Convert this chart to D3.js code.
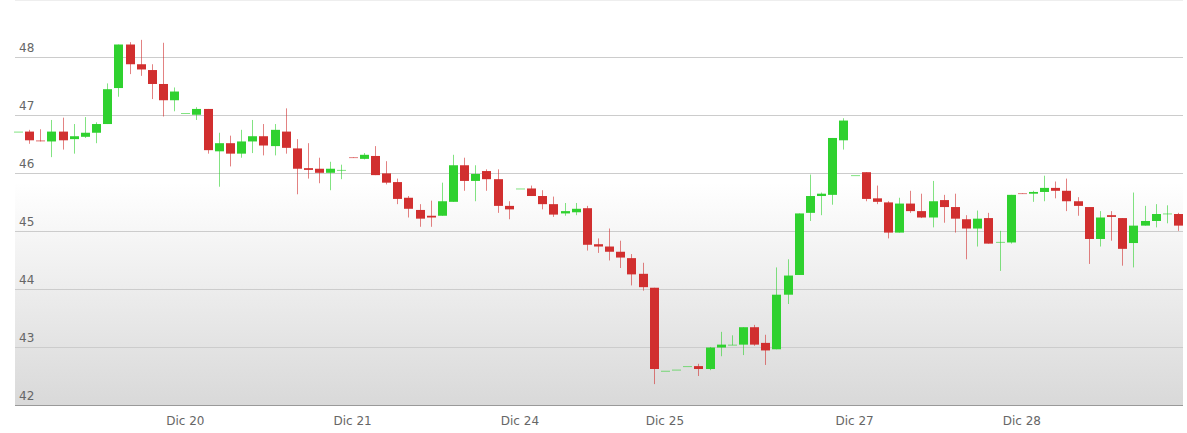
<!DOCTYPE html>
<html>
<head>
<meta charset="utf-8">
<script src="https://cdn.jsdelivr.net/npm/d3@7"></script>
<style>
  body { margin: 0; background: #fff; }
  text { font-family: "DejaVu Sans", sans-serif; }
</style>
</head>
<body>
<div id="chart"></div>
<script>
var svgWidth = 1187;
var svgHeight = 433;

var plot = { left: 15, right: 1183, top: 0, bottom: 405 };

// OHLC values, one per candle
var opens = [46.71,46.71,46.56,46.54,46.71,46.58,46.62,46.69,46.84,47.46,48.21,47.87,47.77,47.53,47.25,47.03,47.00,47.10,46.37,46.51,
  46.33,46.54,46.63,46.46,46.71,46.42,46.08,46.07,46.00,46.04,46.27,46.24,46.29,45.99,45.84,45.57,45.36,45.26,45.26,45.50,
  46.13,45.86,46.03,45.89,45.43,45.73,45.73,45.60,45.46,45.30,45.32,45.39,44.77,44.73,44.64,44.53,44.26,44.02,42.59,42.61,
  42.67,42.67,42.62,42.99,43.03,43.04,43.34,43.07,42.96,43.90,44.24,45.31,45.60,45.62,46.56,45.96,46.01,45.56,45.49,44.97,
  45.47,45.34,45.23,45.53,45.41,45.20,45.04,45.22,44.81,44.80,45.65,45.64,45.67,45.74,45.69,45.51,45.41,44.86,45.27,45.22,
  44.79,45.09,45.17,45.29,45.29];
var highs = [46.71,46.74,46.75,46.91,46.95,46.84,46.96,46.87,47.54,48.21,48.25,48.29,47.87,48.24,47.47,47.03,47.13,47.10,46.69,46.64,
  46.74,46.91,46.84,46.84,47.11,46.58,46.51,46.26,46.19,46.14,46.27,46.34,46.46,46.20,45.90,45.60,45.46,45.52,45.83,46.31,
  46.26,46.13,46.06,46.06,45.51,45.73,45.78,45.70,45.59,45.48,45.48,45.43,44.87,45.04,44.83,44.60,44.45,44.02,42.59,42.61,
  42.67,42.71,43.00,43.26,43.20,43.34,43.38,43.21,44.37,44.51,45.30,45.97,45.66,46.60,46.94,45.96,46.01,45.78,45.51,45.57,
  45.69,45.64,45.86,45.62,45.64,45.27,45.35,45.31,45.00,45.62,45.65,45.69,45.95,45.85,45.90,45.58,45.41,45.34,45.34,45.22,
  45.66,45.43,45.46,45.44,45.31];
var lows = [46.71,46.50,46.54,46.27,46.40,46.33,46.60,46.51,46.84,47.31,47.70,47.67,47.27,46.97,47.06,47.03,46.91,46.33,45.76,46.11,
  46.26,46.34,46.30,46.30,46.33,45.63,45.90,45.82,45.70,45.89,46.26,46.23,45.96,45.80,45.46,45.23,45.07,45.07,45.26,45.50,
  45.69,45.51,45.69,45.31,45.20,45.73,45.60,45.37,45.24,45.26,45.27,44.66,44.62,44.49,44.36,44.06,43.97,42.36,42.59,42.61,
  42.67,42.50,42.60,42.84,43.03,42.86,43.02,42.69,42.96,43.74,44.24,45.17,45.27,45.45,46.40,45.96,45.51,45.46,44.87,44.97,
  45.31,45.22,45.06,45.14,44.97,44.51,44.73,44.78,44.31,44.78,45.64,45.50,45.51,45.56,45.34,45.26,44.43,44.73,44.83,44.40,
  44.37,45.09,45.06,45.13,45.00];
var closes = [46.71,46.56,46.54,46.71,46.56,46.63,46.69,46.84,47.44,48.21,47.87,47.78,47.53,47.25,47.40,47.03,47.10,46.39,46.51,46.33,
  46.54,46.63,46.47,46.74,46.43,46.07,46.05,46.00,46.07,46.05,46.26,46.31,45.96,45.83,45.55,45.38,45.21,45.23,45.51,46.13,
  45.86,45.98,45.89,45.43,45.37,45.73,45.60,45.46,45.28,45.34,45.38,44.76,44.73,44.64,44.54,44.25,44.03,42.62,42.59,42.61,
  42.67,42.62,42.99,43.04,43.04,43.34,43.04,42.94,43.90,44.23,45.30,45.60,45.64,46.60,46.90,45.96,45.55,45.50,44.97,45.47,
  45.34,45.23,45.51,45.41,45.21,45.04,45.21,44.78,44.81,45.62,45.64,45.67,45.74,45.69,45.51,45.43,44.86,45.23,45.24,44.69,
  45.09,45.17,45.29,45.30,45.09];

var yTicks = [42, 43, 44, 45, 46, 47, 48];
var dateLabels = ["Dic 20", "Dic 21", "Dic 24", "Dic 25", "Dic 27", "Dic 28"];
var dateIndex = [15, 30, 45, 58, 75, 90];

var candles = opens.map(function(o, i) {
  return { i: i, open: o, high: highs[i], low: lows[i], close: closes[i] };
});

var svg = d3.select("#chart").append("svg")
  .attr("width", svgWidth)
  .attr("height", svgHeight);

// background gradient
var grad = svg.append("defs").append("linearGradient")
  .attr("id", "bg").attr("x1", 0).attr("y1", 0).attr("x2", 0).attr("y2", 1);
grad.append("stop").attr("offset", "0%").attr("stop-color", "#ffffff");
grad.append("stop").attr("offset", "45%").attr("stop-color", "#ffffff");
grad.append("stop").attr("offset", "100%").attr("stop-color", "#d9d9d9");

svg.append("rect")
  .attr("x", plot.left).attr("y", plot.top)
  .attr("width", plot.right - plot.left).attr("height", plot.bottom - plot.top)
  .attr("fill", "url(#bg)");

svg.append("line")
  .attr("x1", plot.left).attr("x2", plot.right)
  .attr("y1", 0.5).attr("y2", 0.5)
  .attr("stroke", "#eeeeee");

var x = d3.scaleBand()
  .domain(d3.range(candles.length))
  .range([12.4, 1183.6]);

var y = d3.scaleLinear()
  .domain([42, 48])
  .range([plot.bottom, 56.7]);

// gridlines
svg.append("g").selectAll("line")
  .data(yTicks)
  .enter().append("line")
  .attr("x1", plot.left).attr("x2", plot.right)
  .attr("y1", d => Math.round(y(d)) + 0.5)
  .attr("y2", d => Math.round(y(d)) + 0.5)
  .attr("stroke", d => d === 42 ? "#999999" : "#cccccc");

svg.append("g").selectAll("text")
  .data(yTicks)
  .enter().append("text")
  .attr("x", 19)
  .attr("y", d => y(d) - 5)
  .attr("font-size", "12px")
  .attr("fill", "#666666")
  .text(d => d);

// candles
var green = "#2fd12f";
var red = "#d12f2f";
var cg = svg.append("g");
var bw = 9;

cg.selectAll(".wick")
  .data(candles)
  .enter().append("line")
  .attr("x1", d => Math.round(x(d.i) + x.bandwidth() / 2) + 0.5)
  .attr("x2", d => Math.round(x(d.i) + x.bandwidth() / 2) + 0.5)
  .attr("y1", d => y(d.high))
  .attr("y2", d => y(d.low))
  .attr("stroke", d => d.close >= d.open ? green : red)
  .attr("stroke-opacity", 0.6);

cg.selectAll(".body")
  .data(candles)
  .enter().append("rect")
  .attr("x", d => Math.round(x(d.i) + x.bandwidth() / 2) + 0.5 - bw / 2)
  .attr("y", d => y(Math.max(d.open, d.close)))
  .attr("width", bw)
  .attr("height", d => Math.max(1, Math.abs(y(d.open) - y(d.close))))
  .attr("fill", d => d.close >= d.open ? green : red)
  .attr("fill-opacity", d => Math.abs(y(d.open) - y(d.close)) < 1.5 ? 0.6 : 1);

// date labels
svg.append("g").selectAll("text")
  .data(dateLabels)
  .enter().append("text")
  .attr("x", (d, i) => x(dateIndex[i]) + x.bandwidth() / 2)
  .attr("y", 425)
  .attr("text-anchor", "middle")
  .attr("font-size", "12px")
  .attr("fill", "#666666")
  .text(d => d);
</script>
</body>
</html>
